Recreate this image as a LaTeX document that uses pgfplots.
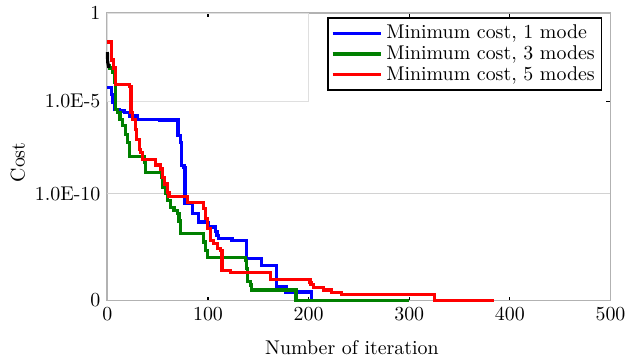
\documentclass[border=0pt]{standalone}
\usepackage{pgfplots}
\pgfplotsset{compat=1.18}
\definecolor{mblue}{RGB}{0,0,255}
\definecolor{mgreen}{RGB}{0,128,0}
\definecolor{mred}{RGB}{255,0,0}
\begin{document}
\begin{tikzpicture}
\begin{axis}[
  scale only axis, width=253pt, height=144.5pt,
  xmin=0, xmax=500, ymin=0, ymax=289,
  xtick={0,100,...,500},
  ytick={0,107.3,200.5,289}, yticklabels={0,1.0E-10,1.0E-5,1},
  axis line style={draw=gray!60, line width=0.9pt},
  tick style={black, line width=0.6pt}, major tick length=2pt, tick align=inside,
  clip=false,
  every axis plot/.append style={line width=1.6pt},
  xlabel={Number of iteration}, ylabel={Cost},
  xlabel style={at={(axis description cs:0.486,-0.163)}, anchor=center},
  ylabel style={at={(axis description cs:-0.178,0.481)}, anchor=center},
  legend style={at={(0.984,0.986)}, anchor=north east, draw=black, line width=0.7pt, row sep=-2pt, inner sep=1.5pt},
  legend cell align=left,
  legend image code/.code={\draw[#1, line width=1.6pt] (0cm,0cm) -- (0.85cm,0cm);},
]
\coordinate (bl) at (rel axis cs:0,0);
\coordinate (tr) at (rel axis cs:1,1);
\draw[gray!25, line width=0.5pt] (axis cs:0,289) rectangle (axis cs:199.6,200.5);
\draw[gray!35, line width=0.5pt] (axis cs:0,107.3) -- (axis cs:500,107.3);
\addplot[mblue, line width=1.6pt, const plot] coordinates {
(0,214) (3.7,207.3) (5.2,199) (6.9,192.3) (11.9,190.7) (16.8,189) (21.7,185.7)
(29.9,182.3) (51.4,181.7) (70.2,165.7) (72.8,159) (73.8,135.7) (76.1,134)
(77.1,97.3) (84.3,87.3) (90.9,79) (99.1,78) (100.5,74) (107.4,69.7) (109,65.7)
(110.7,62.3) (123.8,60.7) (138.6,42.3) (153.5,35.7) (168.3,14) (177.6,8.7)
(202.9,0) (204,0)};
\addlegendentry{Minimum cost, 1 mode}
\addplot[mgreen, line width=1.6pt, const plot] coordinates {
(0,236) (2,234) (5.2,229) (6.9,219) (7.9,192.3) (10.2,189) (12.5,182.3)
(15.1,175.7) (17.8,167.3) (20.1,159) (21.7,145) (36.6,139) (38.2,129)
(54,124) (55,114) (58,107.3) (59.6,100.7) (62.9,94) (66.2,90.7) (69.5,87.3)
(71.1,80) (73,67.3) (95.8,59) (97.5,50.7) (99.1,43) (137.1,40.7) (138.6,32.3)
(139.5,19) (142,15.7) (143.6,10.7) (187.5,0) (300,0)};
\addlegendentry{Minimum cost, 3 modes}
\addplot[mred, line width=1.6pt, const plot] coordinates {
(0,260) (3.7,242) (6,234) (8,217) (22,215) (23.4,189) (25,182) (27.7,172)
(29,162) (31.6,152) (33.3,149) (34.9,142.3) (48.1,136.3) (53.1,132.3)
(54.6,124) (57,117.3) (59.6,109) (61.3,105) (79.3,98.3) (95.8,92.3) (97.5,82.3)
(99.1,72.3) (102.5,60.7) (105.7,57.3) (109.7,52.3) (112.4,50) (113.9,30)
(122.2,28) (161.8,21.3) (201.3,18) (202.3,16) (204.5,13) (214.4,10.7)
(222.6,8.3) (232.5,6.3) (325.4,0) (384,0)};
\addlegendentry{Minimum cost, 5 modes}
\addplot[black, line width=1.6pt, forget plot] coordinates {(0,250) (0.3,240) (1.5,234)};
\end{axis}
\path ([xshift=-54pt,yshift=-29.5pt]bl) rectangle ([xshift=9pt,yshift=5pt]tr);
\end{tikzpicture}
\end{document}
